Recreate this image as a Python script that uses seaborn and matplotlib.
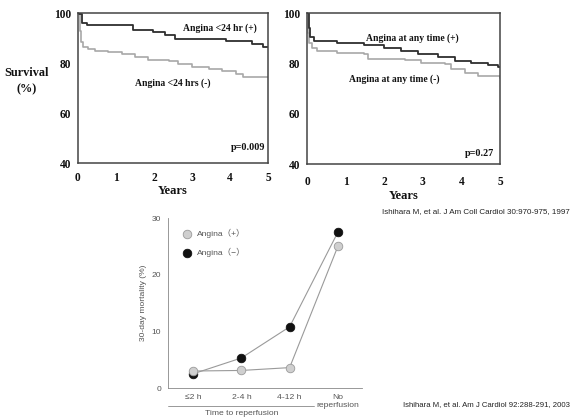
import numpy as np
import pandas as pd
import matplotlib.pyplot as plt
import seaborn as sns
from matplotlib.lines import Line2D

# curvas de Kaplan-Meier, painel 1 (angina < 24 h)
t_24_pos = [0, 0.04, 0.10, 0.23, 1.46, 1.98, 2.29, 2.55, 3.90, 4.57, 4.88, 5.0]
s_24_pos = [100, 99.5, 96.0, 95.1, 93.3, 92.4, 91.3, 89.7, 88.7, 87.6, 86.5, 86.5]
t_24_neg = [0, 0.05, 0.08, 0.12, 0.27, 0.45, 0.8, 1.15, 1.5, 1.85, 2.4, 2.62, 3.0, 3.45, 3.8, 4.15, 4.35, 5.0]
s_24_neg = [100, 93, 88.5, 86.6, 85.6, 84.8, 84.3, 83.6, 82.4, 81.4, 80.8, 79.6, 78.5, 77.8, 77.0, 75.8, 74.6, 74.6]

# painel 2 (angina a qualquer momento)
t_any_pos = [0, 0.04, 0.08, 0.18, 0.79, 1.48, 2.0, 2.44, 2.87, 3.39, 3.83, 4.26, 4.7, 4.95, 5.0]
s_any_pos = [100, 94, 90.5, 88.8, 88.2, 87.2, 86.2, 85.1, 83.6, 82.5, 80.9, 80.3, 79.3, 78.6, 78.6]
t_any_neg = [0, 0.03, 0.06, 0.12, 0.27, 0.79, 1.48, 1.57, 2.53, 2.96, 3.57, 3.74, 4.09, 4.44, 5.0]
s_any_neg = [100, 92, 88, 86, 84.9, 84.2, 83.6, 81.6, 81.2, 80.3, 79.6, 77.6, 76.3, 75.0, 74.3]

# mortalidade em 30 dias
categorias = ["≤2 h", "2-4 h", "4-12 h", "No\nreperfusion"]
mort_pos = [3.0, 3.1, 3.6, 25.0]
mort_neg = [2.5, 5.3, 10.8, 27.5]

sns.set_style("white")
plt.rcParams['font.family'] = ['Liberation Serif', 'DejaVu Sans']

fig = plt.figure(figsize=(5.7, 4.17), dpi=100)

escuro = '#2e2e2e'
claro = '#a8a8a8'
serif = dict(family='Liberation Serif', weight='bold', color='#111')


def painel_km(ax, t1, s1, t2, s2, txt1, pos1, txt2, pos2, ptxt, ppos, xpad, ypad_lab):
    sns.lineplot(x=t2, y=s2, drawstyle='steps-post', color=claro, lw=1.2, ax=ax)
    sns.lineplot(x=t1, y=s1, drawstyle='steps-post', color=escuro, lw=1.3, ax=ax)
    ax.set_xlim(0, 5)
    ax.set_ylim(40, 100)
    ax.set_xticks(range(6))
    ax.set_yticks([40, 60, 80, 100])
    ax.tick_params(axis='x', direction='in', length=3, width=1, colors='#333', pad=xpad)
    ax.tick_params(axis='y', direction='out', length=3, width=1, colors='#333', pad=2)
    for lab in ax.get_xticklabels() + ax.get_yticklabels():
        lab.set_fontfamily('Liberation Serif')
        lab.set_fontweight('bold')
        lab.set_fontsize(8.3)
        lab.set_color('#111')
    for sp in ax.spines.values():
        sp.set_color('#444')
        sp.set_linewidth(1.1)
    ax.set_xlabel('Years', fontsize=9, labelpad=ypad_lab, **serif)
    ax.text(pos1[0], pos1[1], txt1, ha='center', va='center', fontsize=6.9, **serif)
    ax.text(pos2[0], pos2[1], txt2, ha='center', va='center', fontsize=6.9, **serif)
    ax.text(ppos[0], ppos[1], ptxt, ha='right', va='center', fontsize=7.3, **serif)


ax1 = fig.add_axes([0.1368, 0.609, 0.3333, 0.3597])
painel_km(ax1, t_24_pos, s_24_pos, t_24_neg, s_24_neg,
          'Angina <24 hr (+)', (3.74, 94), 'Angina <24 hrs (-)', (2.5, 72),
          'p=0.009', (4.93, 46.4), 6.5, 1)
fig.text(0.047, 0.805, 'Survival\n(%)', ha='center', va='center', fontsize=8.8,
         linespacing=1.5, **serif)

ax2 = fig.add_axes([0.5386, 0.6067, 0.3386, 0.3621])
painel_km(ax2, t_any_pos, s_any_pos, t_any_neg, s_any_neg,
          'Angina at any time (+)', (2.73, 90), 'Angina at any time (-)', (2.27, 73.6),
          'p=0.27', (4.85, 44), 8.5, 1.5)

fig.text(1.0, 0.492, 'Ishihara M, et al. J Am Coll Cardiol 30:970-975, 1997',
         ha='right', va='center', fontsize=5.8, family='Liberation Sans', color='#222')

# grafico de mortalidade
ax3 = fig.add_axes([0.2947, 0.0695, 0.3404, 0.4077])
pos = np.arange(len(categorias))
cinza = '#9a9a9a'
sns.lineplot(x=pos, y=mort_pos, color=cinza, lw=0.8, ax=ax3, zorder=1)
sns.lineplot(x=pos, y=mort_neg, color=cinza, lw=0.8, ax=ax3, zorder=1)
sns.scatterplot(x=pos, y=mort_pos, color='#cfcfcf', edgecolor='#9a9a9a', linewidth=0.6,
                s=38, ax=ax3, zorder=4, label='Angina（+）')
sns.scatterplot(x=pos, y=mort_neg, color='#111111', edgecolor='#111111', linewidth=0.6,
                s=38, ax=ax3, zorder=3, label='Angina（−）')
ax3.set_xlim(-0.52, 3.5)
ax3.set_ylim(0, 30)
ax3.set_yticks([0, 10, 20, 30])
ax3.set_xticks(pos)
ax3.set_xticklabels(categorias)
ax3.set_xticks([0.5, 1.5, 2.5], minor=True)
ax3.tick_params(axis='x', which='major', length=0, pad=4)
ax3.tick_params(axis='x', which='minor', length=3, width=0.6, color='#888', direction='out')
ax3.tick_params(axis='y', length=3, width=0.6, color='#888', direction='out', pad=2)
for lab in ax3.get_xticklabels() + ax3.get_yticklabels():
    lab.set_fontfamily(['Liberation Sans', 'DejaVu Sans'])
    lab.set_fontsize(6.1)
    lab.set_color('#555')
sns.despine(ax=ax3)
for sp in ['left', 'bottom']:
    ax3.spines[sp].set_color('#888')
    ax3.spines[sp].set_linewidth(0.6)
ax3.set_ylabel('30-day mortality (%)', fontsize=6.1, color='#555',
               family=['Liberation Sans', 'DejaVu Sans'], labelpad=3)
ax3.legend(loc='upper left', frameon=False, handletextpad=0.15, labelspacing=1.15,
           borderaxespad=0.9, prop={'family': ['Liberation Sans', 'Noto Sans CJK JP'], 'size': 6.1},
           labelcolor='#555', markerscale=1.0)

# linha e rotulo "Time to reperfusion"
trans = ax3.get_xaxis_transform()
ax3.add_line(Line2D([-0.52, 2.5], [-0.106, -0.106], transform=trans, color='#888',
                    lw=0.6, clip_on=False))
ax3.text(1.0, -0.147, 'Time to reperfusion', transform=trans, ha='center', va='center',
         fontsize=6.1, color='#555', family='Liberation Sans')

fig.text(1.0, 0.03, 'Ishihara M, et al. Am J Cardiol 92:288-291, 2003',
         ha='right', va='center', fontsize=5.6, family='Liberation Sans', color='#222')

plt.savefig('out.png', dpi=100)
